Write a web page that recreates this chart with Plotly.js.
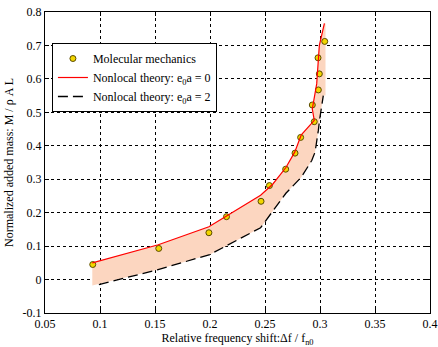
<!DOCTYPE html>
<html>
<head>
<meta charset="utf-8">
<script src="https://cdn.plot.ly/plotly-3.0.1.min.js"></script>
<style>html,body{margin:0;padding:0;background:#fff;}#chart{width:438px;height:347px;}</style>
</head>
<body>
<div id="chart"></div>
<script>
// Molecular mechanics points
const mmX = [0.0934, 0.1534, 0.199, 0.215, 0.2464, 0.254, 0.2688, 0.2773, 0.2824, 0.2948, 0.293, 0.2985, 0.2994, 0.2982, 0.3043];
const mmY = [0.045, 0.093, 0.140, 0.188, 0.234, 0.281, 0.330, 0.378, 0.425, 0.472, 0.522, 0.567, 0.615, 0.663, 0.712];
// Nonlocal theory e0a = 0
const redX = [0.093, 0.153, 0.199, 0.246, 0.257, 0.269, 0.277, 0.283, 0.2948, 0.293, 0.297, 0.299, 0.2994, 0.304];
const redY = [0.050, 0.104, 0.158, 0.252, 0.285, 0.335, 0.381, 0.433, 0.476, 0.510, 0.585, 0.665, 0.700, 0.766];
// Nonlocal theory e0a = 2
const dashX = [0.099, 0.152, 0.200, 0.246, 0.269, 0.283, 0.2925, 0.2955, 0.2985, 0.2995, 0.303];
const dashY = [-0.015, 0.029, 0.075, 0.155, 0.258, 0.306, 0.356, 0.381, 0.446, 0.475, 0.550];
// fill band edge
const bandRightX = [0.305, 0.305];
const bandRightY = [0.766, 0.550];
const bandLeftX = [0.093];
const bandLeftY = [-0.018];

const xTicks = [0.05, 0.1, 0.15, 0.2, 0.25, 0.3, 0.35, 0.4];
const xTickText = ["0.05", "0.1", "0.15", "0.2", "0.25", "0.3", "0.35", "0.4"];
const yTicks = [-0.1, 0, 0.1, 0.2, 0.3, 0.4, 0.5, 0.6, 0.7, 0.8];
const yTickText = ["-0.1", "0", "0.1", "0.2", "0.3", "0.4", "0.5", "0.6", "0.7", "0.8"];

const bandX = redX.concat(bandRightX, dashX.slice().reverse(), bandLeftX);
const bandY = redY.concat(bandRightY, dashY.slice().reverse(), bandLeftY);

const FAM = "'Liberation Serif', 'Times New Roman', serif";
const font = {family: FAM, size: 12, color: "#000"};

const traces = [
  {x: bandX, y: bandY, type: "scatter", mode: "lines", fill: "toself",
   fillcolor: "rgb(252,214,192)", line: {width: 0, color: "rgba(0,0,0,0)"}, showlegend: false, hoverinfo: "skip"},
  {x: mmX, y: mmY, type: "scatter", mode: "markers", name: "Molecular mechanics",
   marker: {color: "#f2d600", size: 6, line: {color: "#5a4a00", width: 1}}},
  {x: redX, y: redY, type: "scatter", mode: "lines", name: "Nonlocal theory: e<sub>0</sub>a = 0",
   line: {color: "#ff0000", width: 1.2}},
  {x: dashX, y: dashY, type: "scatter", mode: "lines", name: "Nonlocal theory: e<sub>0</sub>a = 2",
   line: {color: "#000", width: 1.3, dash: "10px,5px"}}
];

const axisCommon = {
  showline: true, mirror: "ticks", linecolor: "#000", linewidth: 1,
  ticks: "inside", ticklen: 4, tickcolor: "#000",
  showgrid: true, gridcolor: "#000", griddash: "dot", gridwidth: 1,
  zeroline: false, tickfont: font
};

const layout = {
  width: 438, height: 347,
  margin: {l: 45, r: 8, t: 12, b: 34},
  paper_bgcolor: "#fff", plot_bgcolor: "#fff",
  font: font,
  xaxis: Object.assign({}, axisCommon, {
    range: [0.05, 0.4], tickmode: "array", tickvals: xTicks, ticktext: xTickText,
    title: {text: "Relative frequency shift:Δf / f<sub>n0</sub>", font: {family: FAM, size: 12}, standoff: 3}
  }),
  yaxis: Object.assign({}, axisCommon, {
    range: [-0.1, 0.8], tickmode: "array", tickvals: yTicks, ticktext: yTickText,
    title: {text: "Normalized added mass: M / ρ A L", font: {family: FAM, size: 12}, standoff: 6}
  }),
  legend: {
    x: 0.018, y: 0.897, xanchor: "left", yanchor: "top",
    bgcolor: "#fff", bordercolor: "#000", borderwidth: 1,
    font: {family: FAM, size: 12}, tracegroupgap: 0, itemwidth: 30
  },
  showlegend: true
};

Plotly.newPlot("chart", traces, layout, {displayModeBar: false, staticPlot: true});
</script>
</body>
</html>
